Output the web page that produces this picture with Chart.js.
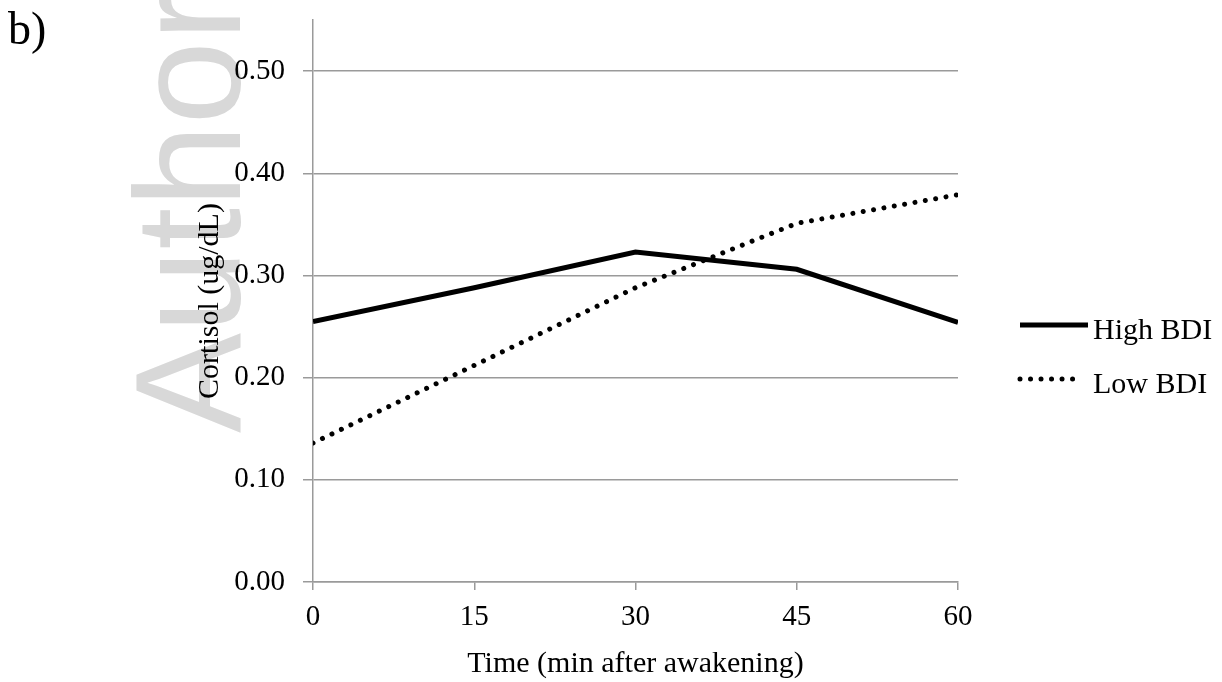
<!DOCTYPE html>
<html>
<head>
<meta charset="utf-8">
<script src="https://cdn.jsdelivr.net/npm/chart.js@4"></script>
<style>
    html, body { margin: 0; padding: 0; background: #fff; }
    #chart-wrap { position: relative; width: 1222px; height: 682px; }
</style>
</head>
<body>
<div id="chart-wrap"><canvas id="cortisol-chart" width="1222" height="682"></canvas></div>
<script>
// values
var timePoints = [0, 15, 30, 45, 60];
var highBDI = [0.255, 0.288, 0.323, 0.306, 0.254];
var lowBDI = [0.136, 0.212, 0.288, 0.351, 0.379];
var yTicks = [0, 0.1, 0.2, 0.3, 0.4, 0.5];
var seriesNames = ['High BDI', 'Low BDI'];

var serif = '"Liberation Serif", "Times New Roman", serif';
var axisGray = '#9a9a9a';

function toPoints(values) {
    return timePoints.map(function(t, i) { return { x: t, y: values[i] }; });
}

// grey "Author" watermark behind everything, plus the panel letter
var decorations = {
    id: 'decorations',
    beforeDraw: function(chart) {
        var ctx = chart.ctx;
        ctx.save();
        ctx.fillStyle = '#fff';
        ctx.fillRect(0, 0, chart.width, chart.height);
        ctx.translate(240, 433);
        ctx.rotate(-Math.PI / 2);
        ctx.font = '150px "Liberation Sans", Arial, sans-serif';
        ctx.fillStyle = '#d8d8d8';
        ctx.textBaseline = 'alphabetic';
        ctx.fillText('Author', 0, 0);
        ctx.restore();
    },
    afterDraw: function(chart) {
        var ctx = chart.ctx;
        ctx.save();
        ctx.font = '46px ' + serif;
        ctx.fillStyle = '#000';
        ctx.textBaseline = 'alphabetic';
        ctx.fillText('b)', 8, 44);
        ctx.restore();
    }
};

// legend on the right, drawn from the dataset styles
var sideLegend = {
    id: 'sideLegend',
    afterDraw: function(chart) {
        var ctx = chart.ctx;
        var area = chart.chartArea;
        var x0 = area.right + 62;
        var y0 = area.top + 305;
        chart.data.datasets.forEach(function(ds, i) {
            var y = y0 + i * 54;
            var len = ds.borderDash.length ? 62 : 68;
            ctx.save();
            ctx.strokeStyle = ds.borderColor;
            ctx.lineWidth = ds.borderWidth;
            ctx.lineCap = ds.borderCapStyle;
            ctx.setLineDash(ds.borderDash);
            ctx.beginPath();
            ctx.moveTo(x0, y);
            ctx.lineTo(x0 + len, y);
            ctx.stroke();
            ctx.setLineDash([]);
            ctx.font = '30px ' + serif;
            ctx.fillStyle = '#000';
            ctx.textBaseline = 'alphabetic';
            ctx.fillText(ds.label, x0 + 73, y + 14);
            ctx.restore();
        });
    }
};

var ctx = document.getElementById('cortisol-chart');

new Chart(ctx, {
    type: 'line',
    data: {
        datasets: [{
            label: seriesNames[0],
            data: toPoints(highBDI),
            borderColor: '#000',
            borderWidth: 5,
            borderDash: [],
            borderCapStyle: 'butt',
            borderJoinStyle: 'miter',
            pointRadius: 0,
            tension: 0
        }, {
            label: seriesNames[1],
            data: toPoints(lowBDI),
            borderColor: '#000',
            borderWidth: 5,
            borderDash: [0.01, 10.5],
            borderCapStyle: 'round',
            pointRadius: 0,
            tension: 0
        }]
    },
    options: {
        responsive: false,
        animation: false,
        devicePixelRatio: 1,
        layout: {
            padding: { left: 190, right: 264, top: 20, bottom: 0 }
        },
        plugins: {
            legend: { display: false },
            tooltip: { enabled: false }
        },
        scales: {
            x: {
                type: 'linear',
                min: 0,
                max: 60,
                afterBuildTicks: function(scale) {
                    scale.ticks = timePoints.map(function(v) { return { value: v }; });
                },
                afterFit: function(scale) {
                    scale.height = 100;
                    scale.paddingLeft = 0;
                    scale.paddingRight = 0;
                },
                grid: {
                    drawOnChartArea: false,
                    drawTicks: true,
                    tickLength: 8,
                    color: axisGray,
                    lineWidth: 1.5
                },
                border: { color: axisGray, width: 1.5 },
                ticks: {
                    padding: 10,
                    color: '#000',
                    font: { family: serif, size: 29 },
                    maxRotation: 0,
                    autoSkip: false
                },
                title: {
                    display: true,
                    text: 'Time (min after awakening)',
                    color: '#000',
                    font: { family: serif, size: 30 },
                    padding: { top: 0, bottom: 0 }
                }
            },
            y: {
                min: 0,
                max: 0.55,
                afterBuildTicks: function(scale) {
                    scale.ticks = yTicks.map(function(v) { return { value: v }; });
                },
                afterFit: function(scale) {
                    scale.width = 123;
                    scale.paddingTop = 0;
                    scale.paddingBottom = 0;
                },
                grid: {
                    drawTicks: true,
                    tickLength: 10,
                    color: axisGray,
                    lineWidth: 1.5
                },
                border: { color: axisGray, width: 1.5 },
                ticks: {
                    padding: 18,
                    color: '#000',
                    font: { family: serif, size: 29 },
                    callback: function(v) { return v.toFixed(2); }
                },
                title: {
                    display: true,
                    text: 'Cortisol (ug/dL)',
                    color: '#000',
                    font: { family: serif, size: 30 },
                    padding: { top: 2, bottom: 0 }
                }
            }
        }
    },
    plugins: [decorations, sideLegend]
});
</script>
</body>
</html>
